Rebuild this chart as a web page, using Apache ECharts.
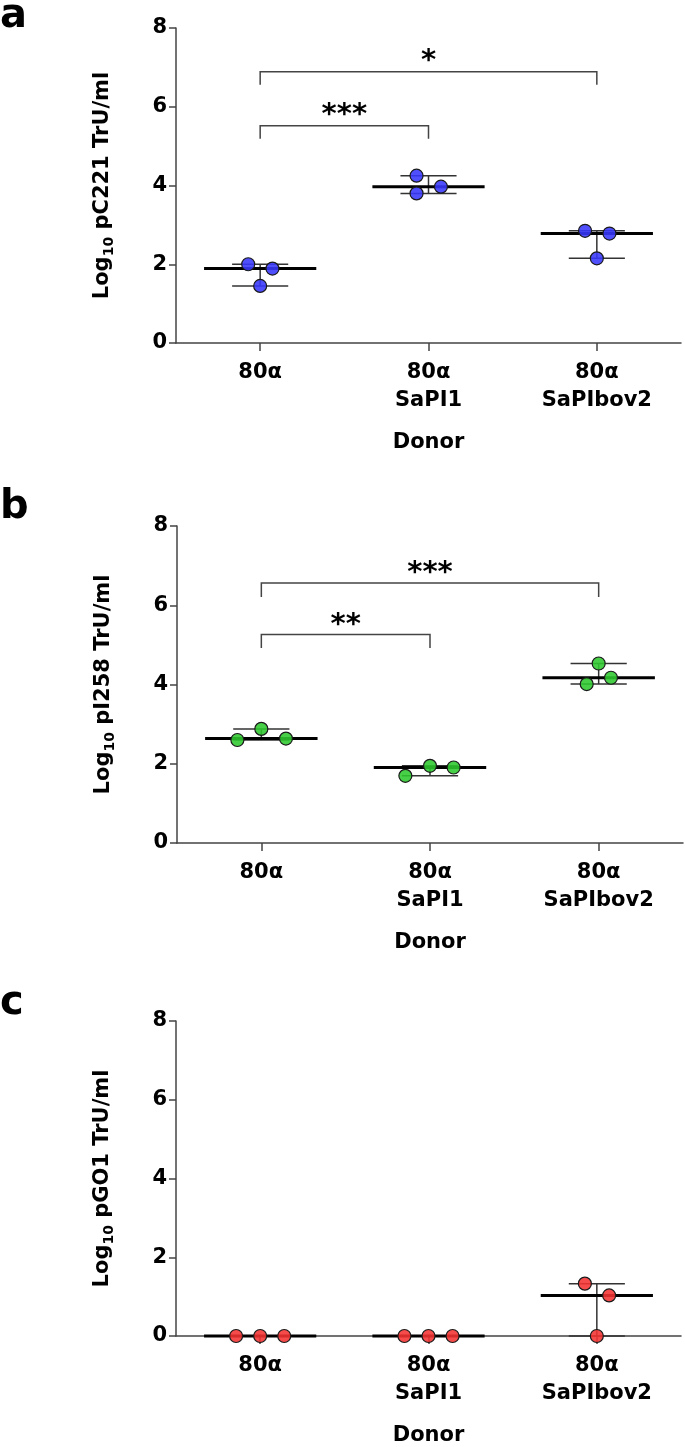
<!DOCTYPE html>
<html>
<head>
<meta charset="utf-8">
<script src="https://cdn.jsdelivr.net/npm/echarts@6/dist/echarts.min.js"></script>
<style>
html,body{margin:0;padding:0;background:#fff;}
#chart{width:685px;height:1447px;}
</style>
</head>
<body>
<div id="chart"></div>
<script>
// ---- data ----
const categories = ['80α', '80α\nSaPI1', '80α\nSaPIbov2'];
const yTicks = [0, 2, 4, 6, 8];
const panelLetters = ['a', 'b', 'c'];
const yTitles = ['pC221', 'pI258', 'pGO1'];

// log10 TrU/ml, three replicates per donor
const aValues = [[2.00, 1.89, 1.45], [4.25, 3.97, 3.80], [2.85, 2.78, 2.15]];
const bValues = [[2.60, 2.88, 2.635], [1.695, 1.947, 1.905], [4.53, 4.17, 4.01]];
const cValues = [[0, 0, 0], [0, 0, 0], [1.33, 1.03, 0]];

// horizontal scatter of the replicate dots, as fraction of a category band
const aJitter = [[-0.071, 0.073, 0], [-0.071, 0.074, -0.071], [-0.07, 0.075, 0]];
const bJitter = [[-0.142, 0, 0.146], [-0.146, 0, 0.14], [0, 0.073, -0.071]];
const cJitter = [[-0.143, 0, 0.143], [-0.143, 0, 0.143], [-0.071, 0.073, 0]];

// significance brackets: [fromCat, toCat, barY, legEndY, label, labelY]
const aBrackets = [[0, 1, 5.52, 5.19, '***', 5.96], [0, 2, 6.89, 6.56, '*', 7.34]];
const bBrackets = [[0, 1, 5.26, 4.92, '**', 5.67], [0, 2, 6.56, 6.21, '***', 6.97]];
const cBrackets = [];

const dotColors = ['rgba(55,55,252,0.88)', 'rgba(45,200,45,0.88)', 'rgba(245,50,50,0.88)'];

// ---- build ----
const FONT = 'DejaVu Sans';
const panels = [
  {values: aValues, jitter: aJitter, brackets: aBrackets, grid: {left: 176, top: 28, width: 505, height: 315}},
  {values: bValues, jitter: bJitter, brackets: bBrackets, grid: {left: 177, top: 526, width: 506, height: 317}},
  {values: cValues, jitter: cJitter, brackets: cBrackets, grid: {left: 176, top: 1021, width: 505, height: 317}}
];

function median(arr) { const s = arr.slice().sort((x, y) => x - y); return s[Math.floor(s.length / 2)]; }

const grids = [], xAxes = [], yAxes = [], series = [];
panels.forEach((p, i) => {
  grids.push(p.grid);
  xAxes.push({
    type: 'category', gridIndex: i, data: categories, boundaryGap: true,
    name: 'Donor', nameLocation: 'middle', nameGap: 89,
    nameTextStyle: {fontFamily: FONT, fontWeight: 'bold', fontSize: 21, color: '#000'},
    axisLine: {show: true, lineStyle: {color: '#444', width: 1.5}},
    axisTick: {show: true, alignWithLabel: true, length: 8, lineStyle: {color: '#444', width: 1.5}},
    axisLabel: {fontFamily: FONT, fontWeight: 'bold', fontSize: 21, color: '#000', lineHeight: 28, margin: 16, interval: 0},
    splitLine: {show: false}
  });
  yAxes.push({
    type: 'value', gridIndex: i, min: yTicks[0], max: yTicks[yTicks.length - 1], interval: yTicks[1] - yTicks[0],
    name: '{b|Log}{s|10}{b| ' + yTitles[i] + ' TrU/ml}', nameLocation: 'middle', nameGap: 60,
    nameTextStyle: {
      color: '#000',
      rich: {
        b: {fontFamily: FONT, fontWeight: 'bold', fontSize: 21, lineHeight: 26, verticalAlign: 'middle', color: '#000'},
        s: {fontFamily: FONT, fontWeight: 'bold', fontSize: 14, lineHeight: 14, verticalAlign: 'bottom', color: '#000'}
      }
    },
    axisLine: {show: true, lineStyle: {color: '#444', width: 1.5}},
    axisTick: {show: true, length: 7, lineStyle: {color: '#444', width: 1.5}},
    axisLabel: {fontFamily: FONT, fontWeight: 'bold', fontSize: 21, color: '#000', margin: 9},
    splitLine: {show: false}
  });

  // median + range bars
  const summary = p.values.map((v, k) => [k, median(v), Math.min.apply(null, v), Math.max.apply(null, v)]);
  series.push({
    type: 'custom', xAxisIndex: i, yAxisIndex: i, z: 2,
    encode: {x: 0, y: [1, 2, 3]},
    data: summary,
    renderItem: function (params, api) {
      const k = api.value(0);
      const m = api.coord([k, api.value(1)]);
      const lo = api.coord([k, api.value(2)]);
      const hi = api.coord([k, api.value(3)]);
      const band = api.size([1, 0])[0];
      const hm = band / 3, hc = band / 6;
      const thin = {stroke: '#333', lineWidth: 1.5};
      return {type: 'group', children: [
        {type: 'line', shape: {x1: m[0], y1: hi[1], x2: m[0], y2: lo[1]}, style: thin},
        {type: 'line', shape: {x1: m[0] - hc, y1: hi[1], x2: m[0] + hc, y2: hi[1]}, style: thin},
        {type: 'line', shape: {x1: m[0] - hc, y1: lo[1], x2: m[0] + hc, y2: lo[1]}, style: thin},
        {type: 'line', shape: {x1: m[0] - hm, y1: m[1], x2: m[0] + hm, y2: m[1]}, style: {stroke: '#000', lineWidth: 3}}
      ]};
    }
  });

  // replicate dots
  const pts = [];
  p.values.forEach((v, k) => v.forEach((val, r) => pts.push([k, val, p.jitter[k][r]])));
  series.push({
    type: 'custom', xAxisIndex: i, yAxisIndex: i, z: 3,
    encode: {x: 0, y: 1},
    data: pts,
    renderItem: function (params, api) {
      const c = api.coord([api.value(0), api.value(1)]);
      const band = api.size([1, 0])[0];
      return {type: 'circle', shape: {cx: c[0] + api.value(2) * band, cy: c[1], r: 6.5},
        style: {fill: dotColors[i], stroke: '#1a1a1a', lineWidth: 1.2}};
    }
  });

  // significance brackets
  if (p.brackets.length) {
    series.push({
      type: 'custom', xAxisIndex: i, yAxisIndex: i, z: 4,
      encode: {x: [0, 1], y: [2, 3, 5]},
      data: p.brackets,
      renderItem: function (params, api) {
        const a = api.coord([api.value(0), api.value(2)]);
        const b = api.coord([api.value(1), api.value(2)]);
        const leg = api.coord([api.value(0), api.value(3)]);
        const t = api.coord([api.value(0), api.value(5)]);
        const label = p.brackets[params.dataIndex][4];
        return {type: 'group', children: [
          {type: 'polyline', shape: {points: [[a[0], leg[1]], [a[0], a[1]], [b[0], b[1]], [b[0], leg[1]]]},
            style: {stroke: '#444', lineWidth: 1.5, fill: null}},
          {type: 'text', style: {text: label, x: (a[0] + b[0]) / 2, y: t[1] + 7, align: 'center', verticalAlign: 'middle',
            font: 'bold 29px ' + FONT, fill: '#000'}}
        ]};
      }
    });
  }
});

const graphics = [
  {type: 'text', left: 0, top: -3, style: {text: panelLetters[0], font: 'bold 40px ' + FONT, fill: '#000'}},
  {type: 'text', left: 0, top: 488, style: {text: panelLetters[1], font: 'bold 40px ' + FONT, fill: '#000'}},
  {type: 'text', left: 0, top: 984, style: {text: panelLetters[2], font: 'bold 40px ' + FONT, fill: '#000'}}
];

const chart = echarts.init(document.getElementById('chart'), null, {renderer: 'canvas'});
chart.setOption({
  animation: false,
  backgroundColor: '#fff',
  grid: grids, xAxis: xAxes, yAxis: yAxes, series: series, graphic: graphics
});
</script>
</body>
</html>
